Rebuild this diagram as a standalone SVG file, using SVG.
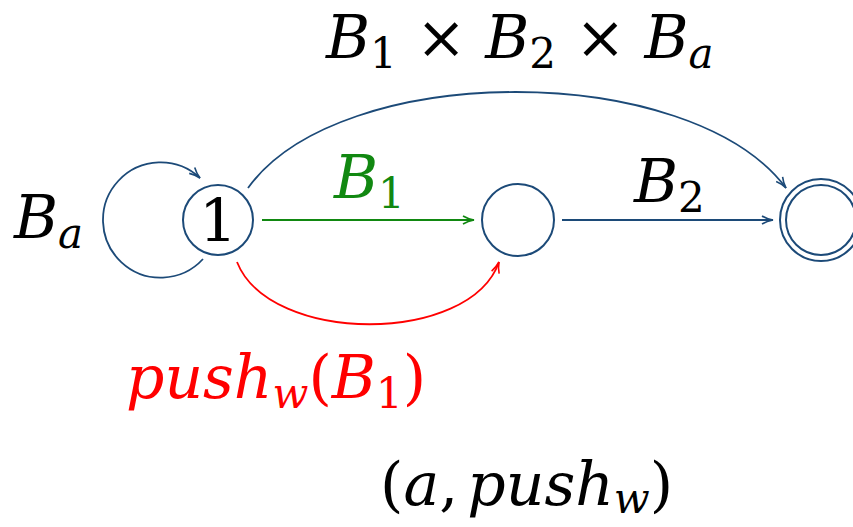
<svg xmlns="http://www.w3.org/2000/svg" width="853" height="527" viewBox="0 0 853 527">
<style>
.st{fill:none;stroke:#1c4a78;stroke-width:2}
.e{fill:none;stroke-width:1.8}
.t{font-family:"DejaVu Serif","Liberation Serif",serif;font-size:60px;fill:#000}
.i{font-style:italic}
.s{font-size:42px}
</style>
<defs>
<marker id="ab" markerWidth="14" markerHeight="10" refX="12" refY="5" orient="auto" markerUnits="userSpaceOnUse"><path d="M1,1 Q6,4 12,5 Q6,6 1,9" fill="none" stroke="#1c4a78" stroke-width="1.6"/></marker>
<marker id="ag" markerWidth="14" markerHeight="10" refX="12" refY="5" orient="auto" markerUnits="userSpaceOnUse"><path d="M1,1 Q6,4 12,5 Q6,6 1,9" fill="none" stroke="#118811" stroke-width="1.6"/></marker>
<marker id="ar" markerWidth="14" markerHeight="10" refX="12" refY="5" orient="auto" markerUnits="userSpaceOnUse"><path d="M1,1 Q6,4 12,5 Q6,6 1,9" fill="none" stroke="#ff0000" stroke-width="1.6"/></marker>
</defs>
<g id="connectors">
<path class="e" stroke="#1c4a78" d="M203,259 A57.6,57.6 0 1 1 200,178" marker-end="url(#ab)"/>
<path class="e" stroke="#118811" d="M262,220 L474,220" marker-end="url(#ag)"/>
<path class="e" stroke="#1c4a78" d="M562,220 L773,220" marker-end="url(#ab)"/>
<path class="e" stroke="#1c4a78" d="M248,188 C340,60 690,60 786,188" marker-end="url(#ab)"/>
<path class="e" stroke="#ff0000" d="M237,262 C270,345 470,345 499,262" marker-end="url(#ar)"/>
</g>
<g id="node1"><circle class="st" cx="218" cy="220" r="35"/><text class="t" x="218" y="242" text-anchor="middle">1</text></g>
<g id="node2"><circle class="st" cx="518" cy="220" r="36"/></g>
<g id="node3"><circle class="st" cx="821" cy="220" r="41"/><circle class="st" cx="821" cy="220" r="35"/></g>
<g id="labels">
<text class="t" x="14" y="238"><tspan class="i">B</tspan><tspan class="i s" dy="10">a</tspan></text>
<text class="t" x="334" y="198" style="fill:#118811"><tspan class="i">B</tspan><tspan class="s" dy="10">1</tspan></text>
<text class="t" x="634" y="202"><tspan class="i">B</tspan><tspan class="s" dy="10">2</tspan></text>
<text class="t" x="326" y="58"><tspan class="i">B</tspan><tspan class="s" dy="10">1</tspan><tspan dy="-10"> × </tspan><tspan class="i">B</tspan><tspan class="s" dy="10">2</tspan><tspan dy="-10"> × </tspan><tspan class="i">B</tspan><tspan class="i s" dy="10">a</tspan></text>
<text class="t" x="126" y="398" style="fill:#ff0000"><tspan class="i">push</tspan><tspan class="i s" dy="10">w</tspan><tspan dy="-10">(</tspan><tspan class="i">B</tspan><tspan class="s" dy="10">1</tspan><tspan dy="-10">)</tspan></text>
<text class="t" x="380" y="505" style="word-spacing:-10px">(<tspan class="i">a</tspan>, <tspan class="i">push</tspan><tspan class="i s" dy="8">w</tspan><tspan dy="-8">)</tspan></text>
</g>
</svg>
